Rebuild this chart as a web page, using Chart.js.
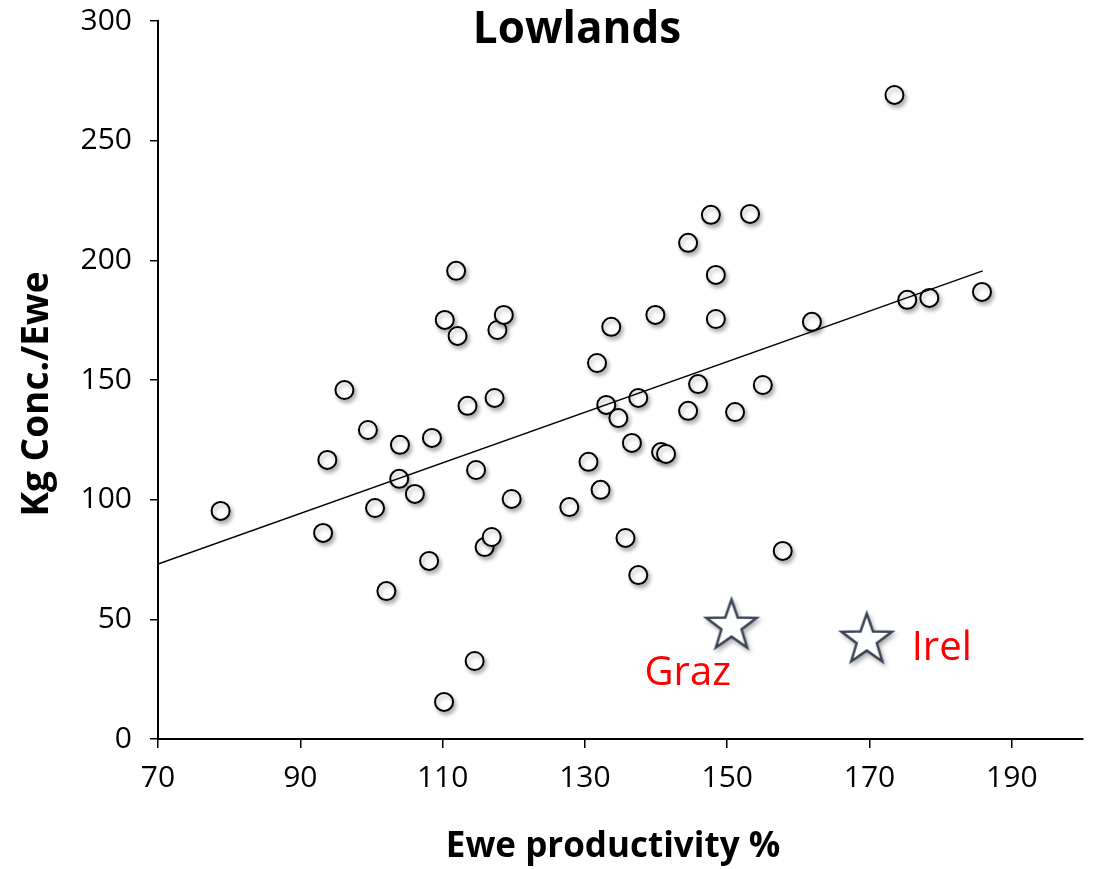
<!DOCTYPE html>
<html>
<head>
<meta charset="utf-8">
<script src="https://cdn.jsdelivr.net/npm/chart.js@4/dist/chart.umd.min.js"></script>
<style>
  html, body { margin: 0; padding: 0; background: #fff; }
  #wrap { width: 1094px; height: 869px; }
</style>
</head>
<body>
<div id="wrap"><canvas id="chart" width="1094" height="869"></canvas></div>
<script>
// farm data
const xVals = [78.8, 93.2, 93.8, 96.2, 99.5, 100.5, 102.1, 104.0, 103.9, 106.1,
               108.1, 108.5, 110.3, 111.9, 112.1, 113.5, 114.5, 110.2, 114.7, 115.9,
               116.9, 117.3, 117.7, 118.6, 119.7, 127.8, 130.5, 131.7, 132.2, 133.0,
               133.7, 134.7, 135.7, 136.6, 137.5, 137.5, 139.9, 140.7, 141.4, 144.5,
               144.5, 145.9, 147.7, 148.4, 148.4, 151.1, 153.2, 155.0, 157.8, 161.9,
               173.5, 175.3, 178.4, 185.8];
const yVals = [95.3, 86.1, 116.6, 145.8, 129.1, 96.5, 61.8, 122.9, 108.7, 102.4,
               74.4, 125.8, 175.1, 195.6, 168.4, 139.2, 32.6, 15.5, 112.4, 80.2,
               84.4, 142.5, 170.9, 177.2, 100.3, 96.9, 115.8, 157.1, 104.1, 139.6,
               172.2, 134.1, 84.0, 123.7, 142.5, 68.5, 177.2, 119.9, 119.1, 137.1,
               207.3, 148.3, 219.0, 193.9, 175.5, 136.6, 219.4, 147.9, 78.6, 174.3,
               269.1, 183.5, 184.3, 186.8];

// benchmark countries (stars)
const starNames = ['Graz', 'Irel'];
const starX = [150.6, 169.6];
const starY = [47.2, 41.4];

// trend line end points
const trendX = [70, 185.9];
const trendY = [73.1, 195.6];

const xTicks = [70, 90, 110, 130, 150, 170, 190];
const yTicks = [0, 50, 100, 150, 200, 250, 300];

const FONT = '"Open Sans", "Liberation Sans", sans-serif';

// five pointed star as point image
function makeStar() {
    const c = document.createElement('canvas');
    c.width = 64; c.height = 64;
    const g = c.getContext('2d');
    const R = 26.5, r = 26.5 * 0.40, cx = 32, cy = 32;
    g.beginPath();
    for (let i = 0; i < 10; i++) {
        const rad = i % 2 === 0 ? R : r;
        const a = -Math.PI / 2 + i * Math.PI / 5;
        const px = cx + rad * Math.cos(a), py = cy + rad * Math.sin(a);
        if (i === 0) g.moveTo(px, py); else g.lineTo(px, py);
    }
    g.closePath();
    g.fillStyle = '#fff';
    g.fill();
    g.lineWidth = 2.5;
    g.lineJoin = 'miter';
    g.strokeStyle = '#3a4456';
    g.stroke();
    return c;
}
const starImg = makeStar();

// soft shadow under the markers
const shadowPlugin = {
    id: 'shadow',
    beforeDatasetDraw(chart, args) {
        const ctx = chart.ctx;
        ctx.save();
        if (args.index !== 0) {
            ctx.shadowColor = 'rgba(0,0,0,0.3)';
            ctx.shadowBlur = 4;
            ctx.shadowOffsetX = 2;
            ctx.shadowOffsetY = 3;
        }
    },
    afterDatasetDraw(chart) {
        chart.ctx.restore();
    }
};

// titles + star labels
const textPlugin = {
    id: 'texts',
    afterDraw(chart) {
        const ctx = chart.ctx;
        const xs = chart.scales.x, ys = chart.scales.y;
        ctx.save();
        ctx.fillStyle = '#000';
        ctx.textAlign = 'center';
        ctx.textBaseline = 'alphabetic';
        ctx.font = 'bold 44px ' + FONT;
        ctx.fillText('Lowlands', 577, 43);

        ctx.font = 'bold 35px ' + FONT;
        ctx.fillText('Ewe productivity %', 613, 857);

        ctx.save();
        ctx.translate(48, 394);
        ctx.rotate(-Math.PI / 2);
        ctx.font = 'bold 37px ' + FONT;
        ctx.fillText('Kg Conc./Ewe', 0, 0);
        ctx.restore();

        // red country labels next to the stars
        const offsets = { Graz: [-87, 59], Irel: [45, 20] };
        ctx.fillStyle = '#ff0000';
        ctx.textAlign = 'left';
        ctx.font = '40px ' + FONT;
        starNames.forEach((n, i) => {
            const px = xs.getPixelForValue(starX[i]);
            const py = ys.getPixelForValue(starY[i]);
            ctx.fillText(n, px + offsets[n][0], py + offsets[n][1]);
        });
        ctx.restore();
    }
};

new Chart(document.getElementById('chart'), {
    type: 'scatter',
    data: {
        datasets: [
            {
                label: 'Trend',
                type: 'line',
                data: trendX.map((x, i) => ({ x: x, y: trendY[i] })),
                borderColor: '#000',
                borderWidth: 1.5,
                pointRadius: 0,
                fill: false
            },
            {
                label: 'Farms',
                data: xVals.map((x, i) => ({ x: x, y: yVals[i] })),
                backgroundColor: '#fff',
                borderColor: '#000',
                borderWidth: 2,
                pointRadius: 9
            },
            {
                label: 'Countries',
                data: starX.map((x, i) => ({ x: x, y: starY[i] })),
                pointStyle: starImg
            }
        ]
    },
    options: {
        responsive: false,
        animation: false,
        layout: { padding: { left: 0, right: 5, top: 21, bottom: 0 } },
        plugins: {
            legend: { display: false },
            tooltip: { enabled: false }
        },
        scales: {
            x: {
                type: 'linear',
                min: 70,
                max: 200,
                afterBuildTicks(scale) {
                    scale.ticks = xTicks.map(v => ({ value: v }));
                },
                afterFit(scale) {
                    scale.height = 130;
                    scale.paddingLeft = 0;
                    scale.paddingRight = 0;
                },
                grid: { display: true, drawOnChartArea: false, drawTicks: true, tickLength: 9, color: '#000', lineWidth: 1.5 },
                border: { display: true, color: '#000', width: 2 },
                ticks: { color: '#000', font: { family: FONT, size: 30 }, padding: 12, maxRotation: 0 }
            },
            y: {
                type: 'linear',
                min: 0,
                max: 300,
                afterBuildTicks(scale) {
                    scale.ticks = yTicks.map(v => ({ value: v }));
                },
                afterFit(scale) {
                    scale.width = 158;
                    scale.paddingTop = 0;
                    scale.paddingBottom = 0;
                },
                grid: { display: true, drawOnChartArea: false, drawTicks: true, tickLength: 8, color: '#000', lineWidth: 1.5 },
                border: { display: true, color: '#000', width: 2 },
                ticks: { color: '#000', font: { family: FONT, size: 30 }, padding: 18 }
            }
        }
    },
    plugins: [shadowPlugin, textPlugin]
});
</script>
</body>
</html>
